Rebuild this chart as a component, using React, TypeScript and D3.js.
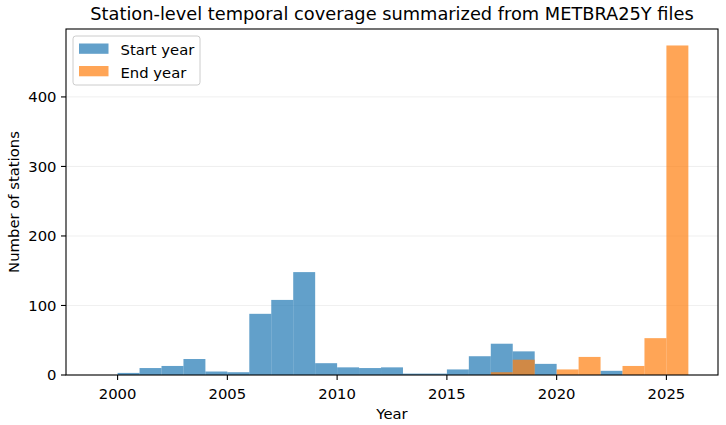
import React from "react";
import * as d3 from "d3";

// Histogram bins: left edge of each one-year bin
const startBins = [1999, 2000, 2001, 2002, 2003, 2004, 2005, 2006, 2007, 2008, 2009, 2010, 2011, 2012, 2013, 2014, 2015, 2016, 2017, 2018, 2019, 2020, 2021, 2022];
const startCounts = [0, 3, 10, 13, 23, 5, 4, 88, 108, 148, 17, 11, 10, 11, 2, 2, 8, 27, 45, 34, 16, 0, 0, 6];

const endBins = [2017, 2018, 2019, 2020, 2021, 2022, 2023, 2024, 2025];
const endCounts = [4, 22, 0, 8, 26, 0, 13, 53, 474];

const xTicks = [2000, 2005, 2010, 2015, 2020, 2025];
const yTicks = [0, 100, 200, 300, 400];

const W = 726;
const H = 425;
const M = { left: 66, right: 718, top: 29, bottom: 375 };

const BLUE = "#1f77b4";
const ORANGE = "#ff7f0e";
const FONT = "DejaVu Sans, sans-serif";
const FS = 14.8;

export default function App() {
  const x = d3.scaleLinear().domain([1997.65, 2027.35]).range([M.left, M.right]);
  const yMax = 474 * 1.05;
  const y = d3.scaleLinear().domain([0, yMax]).range([M.bottom, M.top]);

  const bars = (bins: number[], counts: number[], color: string, key: string) =>
    bins.map((b, i) =>
      counts[i] > 0 ? (
        <rect
          key={`${key}-${b}`}
          x={x(b)}
          y={y(counts[i])}
          width={x(b + 1) - x(b)}
          height={y(0) - y(counts[i])}
          fill={color}
          fillOpacity={0.7}
        />
      ) : null
    );

  const legendItems = [
    { label: "Start year", color: BLUE },
    { label: "End year", color: ORANGE },
  ];

  return (
    <svg width={W} height={H} style={{ position: "absolute", left: 0, top: 0, background: "#fff" }} fontFamily={FONT}>
      <rect x={0} y={0} width={W} height={H} fill="#fff" />
      {/* horizontal grid */}
      {yTicks.map((t) => (
        <line key={`g${t}`} x1={M.left} x2={M.right} y1={y(t)} y2={y(t)} stroke="#b0b0b0" strokeOpacity={0.25} strokeWidth={0.8} />
      ))}
      {bars(startBins, startCounts, BLUE, "s")}
      {bars(endBins, endCounts, ORANGE, "e")}

      {/* spines */}
      <rect x={M.left} y={M.top} width={M.right - M.left} height={M.bottom - M.top} fill="none" stroke="#000" strokeWidth={1.1} />

      {/* x axis */}
      {xTicks.map((t) => (
        <g key={`x${t}`}>
          <line x1={x(t)} x2={x(t)} y1={M.bottom} y2={M.bottom + 5} stroke="#000" strokeWidth={1.1} />
          <text x={x(t)} y={M.bottom + 23.5} textAnchor="middle" fontSize={FS} fill="#000">{t}</text>
        </g>
      ))}
      <text x={(M.left + M.right) / 2} y={418.5} textAnchor="middle" fontSize={FS} fill="#000">Year</text>

      {/* y axis */}
      {yTicks.map((t) => (
        <g key={`y${t}`}>
          <line x1={M.left - 5} x2={M.left} y1={y(t)} y2={y(t)} stroke="#000" strokeWidth={1.1} />
          <text x={M.left - 9.5} y={y(t) + 5.3} textAnchor="end" fontSize={FS} fill="#000">{t}</text>
        </g>
      ))}
      <text
        transform={`translate(18.5,${(M.top + M.bottom) / 2}) rotate(-90)`}
        textAnchor="middle"
        fontSize={FS}
        fill="#000"
      >
        Number of stations
      </text>

      {/* title */}
      <text x={(M.left + M.right) / 2} y={20} textAnchor="middle" fontSize={17.8} fill="#000">
        Station-level temporal coverage summarized from METBRA25Y files
      </text>

      {/* legend */}
      <g>
        <rect x={73} y={36} width={127} height={49} rx={2.8} fill="#fff" fillOpacity={0.8} stroke="#cccccc" strokeWidth={1} />
        {legendItems.map((d, i) => (
          <g key={d.label} transform={`translate(0,${i * 22.5})`}>
            <rect x={79} y={43.5} width={29.5} height={10.3} fill={d.color} fillOpacity={0.7} />
            <text x={120.5} y={55} fontSize={FS} fill="#000">{d.label}</text>
          </g>
        ))}
      </g>
    </svg>
  );
}
